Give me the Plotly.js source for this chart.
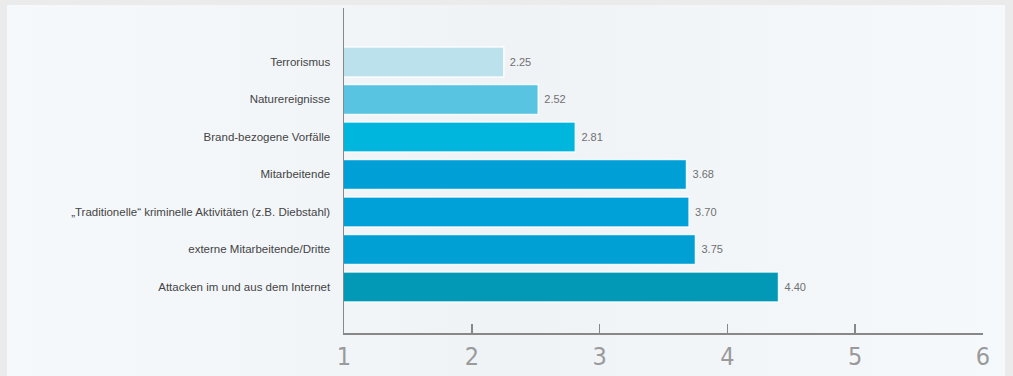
<!DOCTYPE html>
<html>
<head>
<meta charset="utf-8">
<script src="https://cdn.plot.ly/plotly-3.0.1.min.js"></script>
<style>
  html, body { margin: 0; padding: 0; background: #ebebeb; }
  #panel { position: absolute; left: 7px; top: 5px; width: 998px; height: 371px;
           background: linear-gradient(to right, #f6f9fc, #eff3f6 50%, #f6f9fc); }
  #chart { position: absolute; left: 0; top: 0; width: 1013px; height: 376px; }
</style>
</head>
<body>
<div id="panel"></div>
<div id="chart"></div>
<script>
const categories = [
  "Attacken im und aus dem Internet",
  "externe Mitarbeitende/Dritte",
  "„Traditionelle“ kriminelle Aktivitäten (z.B. Diebstahl)",
  "Mitarbeitende",
  "Brand-bezogene Vorfälle",
  "Naturereignisse",
  "Terrorismus"
];
const values = [4.40, 3.75, 3.70, 3.68, 2.81, 2.52, 2.25];
const valueLabels = ["4.40", "3.75", "3.70", "3.68", "2.81", "2.52", "2.25"];
const barColors = ["#0199b5", "#00a0d5", "#00a1d8", "#00a0d7", "#00b6dc", "#58c4e1", "#bbe1ed"];
const xTicks = [1, 2, 3, 4, 5, 6];

const trace = {
  type: "bar",
  orientation: "h",
  y: categories,
  x: values,
  text: valueLabels,
  texttemplate: " %{text}",
  textposition: "outside",
  cliponaxis: false,
  textfont: { family: "Liberation Sans, Arial, sans-serif", size: 11, color: "#707070" },
  marker: { color: barColors, line: { color: "rgba(255,255,255,0.85)", width: 1.5 } },
  hoverinfo: "none"
};

const layout = {
  width: 1013, height: 376,
  margin: { l: 344, r: 30, t: 8, b: 43 },
  paper_bgcolor: "rgba(0,0,0,0)",
  plot_bgcolor: "rgba(0,0,0,0)",
  bargap: 0.2,
  showlegend: false,
  xaxis: {
    range: [1, 6],
    tickvals: xTicks,
    ticktext: xTicks.map(String),
    showgrid: false, zeroline: false,
    showline: true, linecolor: "#888", linewidth: 1.5,
    ticks: "inside", ticklen: 9, tickwidth: 1.5, tickcolor: "#888",
    tickfont: { family: "Liberation Sans Narrow, DejaVu Sans Condensed, sans-serif", size: 25, color: "#9a9a9a" },
    fixedrange: true
  },
  yaxis: {
    type: "category",
    range: [-1.23, 7.44],
    showgrid: false, zeroline: false,
    showline: true, linecolor: "#888", linewidth: 1.5,
    ticks: "", ticklabelstandoff: 10,
    tickfont: { family: "Liberation Sans, Arial, sans-serif", size: 11.5, color: "#444" },
    fixedrange: true
  }
};

Plotly.newPlot("chart", [trace], layout, { displayModeBar: false, staticPlot: true });
</script>
</body>
</html>
